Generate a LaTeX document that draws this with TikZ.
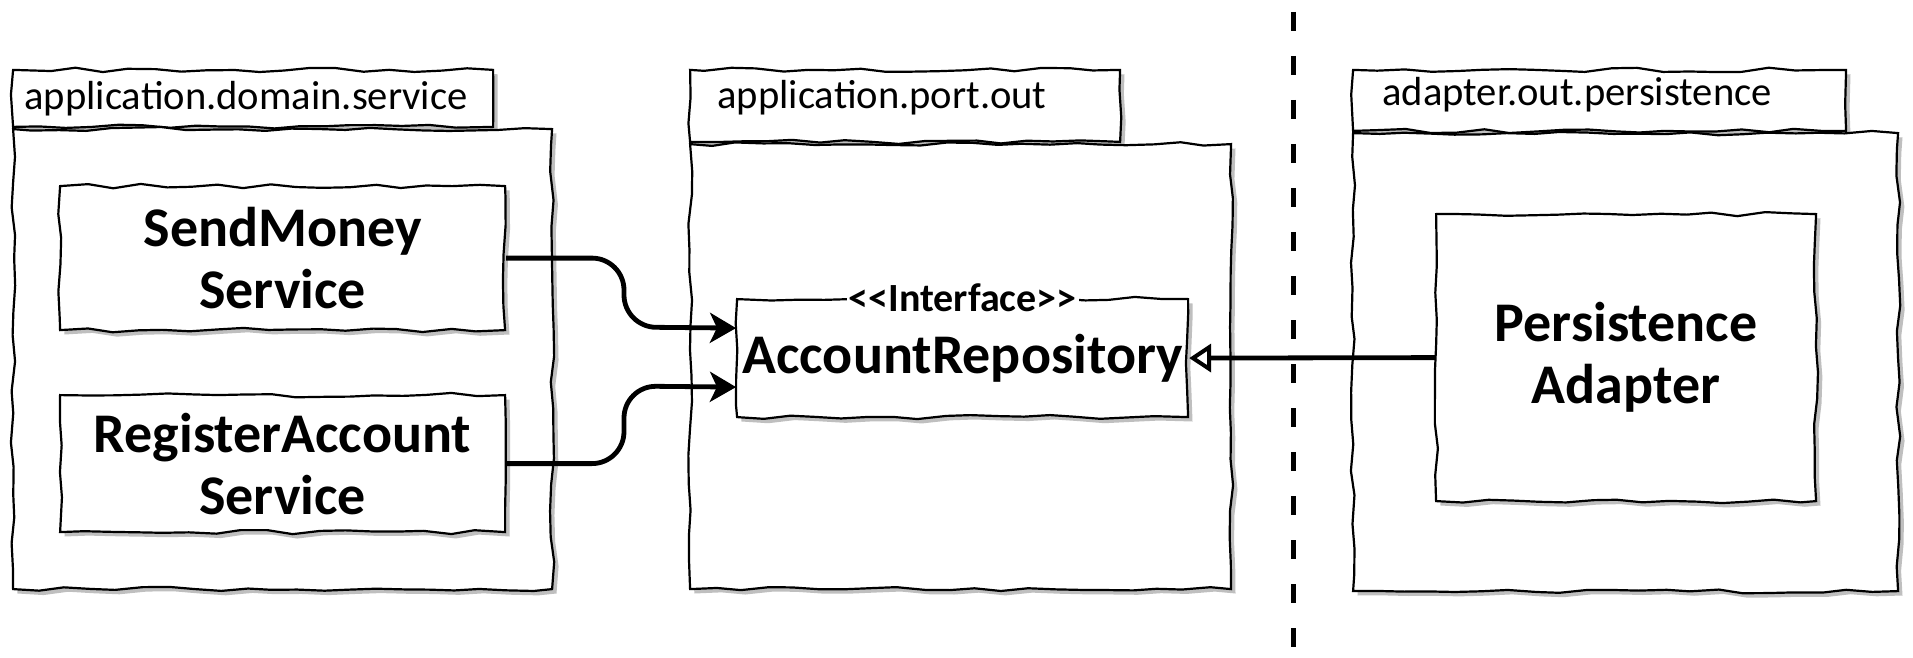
\documentclass[tikz,border=0pt]{standalone}
\usepackage{fontspec}
\setmainfont{Carlito}
\usetikzlibrary{arrows.meta,decorations.pathmorphing,shadows,positioning}

\tikzset{
  sketchy/.style={draw, line width=1.1pt, fill=white, decorate,
    decoration={random steps, segment length=13pt, amplitude=1.1pt},
    drop shadow={shadow xshift=2.2pt, shadow yshift=-2.2pt, fill=black!25, opacity=1}},
  pkgbody/.style={sketchy, anchor=north west, inner sep=0pt},
  pkgtab/.style={sketchy, anchor=south west, inner sep=0pt},
  pkglabel/.style={anchor=west, inner sep=0pt, font=\fontsize{20.3}{23}\selectfont},
  cls/.style={sketchy, anchor=north west, inner sep=0pt, align=center,
    font=\fontsize{28}{31}\selectfont\bfseries},
  stereo/.style={fill=white, inner sep=1pt, font=\fontsize{20}{22}\selectfont\bfseries},
  uses/.style={line width=2.4pt, rounded corners=16pt, -{Stealth[length=13pt,width=15pt,inset=3.5pt]}},
  impl/.style={line width=2.4pt, -{Triangle[open,length=11pt,width=14pt,line width=2pt,fill=white]}},
  boundary/.style={line width=2.5pt, dash pattern=on 9.5pt off 12.5pt}
}

\begin{document}
\begin{tikzpicture}[x=0.5pt,y=-0.5pt]
\pgfmathsetseed{7}
\useasboundingbox (0,0) rectangle (1913,658);

\coordinate (bndtop) at (1293,12);
\coordinate (bndbot) at (1293,647);
\draw[boundary] (bndtop) -- (bndbot);

% domain service package
\node[pkgtab, minimum width=240pt, minimum height=28.5pt] (domtab) at (12,128) {};
\node[pkgbody, minimum width=269.5pt, minimum height=230pt] (dombody) at (12,128) {};
\node[pkglabel] (domlbl) at (24,99) {application.domain.service};
\node[cls, minimum width=222.5pt, minimum height=72pt] (sendmoney) at (59,185) {SendMoney\\Service};
\node[cls, minimum width=222.5pt, minimum height=68.5pt] (register) at (59,394) {RegisterAccount\\Service};

% outgoing port package
\node[pkgtab, minimum width=215pt, minimum height=36pt] (porttab) at (689,143) {};
\node[pkgbody, minimum width=270.5pt, minimum height=222.5pt] (portbody) at (689,143) {};
\node[pkglabel] (portlbl) at (717,98) {application.port.out};
\node[cls, minimum width=225.5pt, minimum height=59pt] (accrepo) at (736,298) {AccountRepository};
\node[stereo] (iface) at (accrepo.north) {<\kern0pt<Interface>\kern0pt>};

% persistence adapter package
\node[pkgtab, minimum width=246.5pt, minimum height=30.5pt] (adpttab) at (1352,132) {};
\node[pkgbody, minimum width=272.5pt, minimum height=229pt] (adptbody) at (1352,132) {};
\node[pkglabel] (adptlbl) at (1382,95) {adapter.out.persistence};
\node[cls, minimum width=190pt, minimum height=143.5pt] (persist) at (1435,213) {Persistence\\Adapter};

\coordinate (bendup) at (624,327);
\coordinate (benddn) at (624,386);
\draw[uses] (sendmoney.east) -| (bendup) -- ([yshift=15pt]accrepo.west);
\draw[uses] (register.east) -| (benddn) -- ([yshift=-14.5pt]accrepo.west);
\draw[impl] (persist.west) -- (accrepo.east);

\end{tikzpicture}
\end{document}
